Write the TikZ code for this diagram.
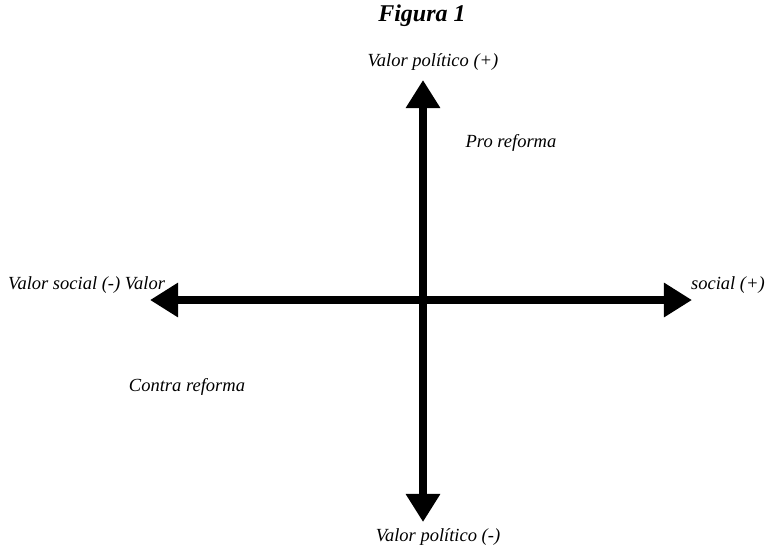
\documentclass[tikz,border=0pt]{standalone}
\usepackage{fontspec}
\setmainfont{Liberation Serif}
\usetikzlibrary{arrows.meta}

\begin{document}
\begin{tikzpicture}[x=0.03cm, y=-0.03cm, every node/.style={font=\itshape\fontsize{15.8}{18}\selectfont, inner sep=0pt},%
        axis/.style={line width=6pt, {Triangle[length=24pt,width=28pt]}-{Triangle[length=24pt,width=28pt]}}]
        \useasboundingbox (0,0) rectangle (768,547);
        \node[font=\bfseries\itshape\fontsize{20.5}{24}\selectfont] (titulo) at (422,16) {Figura 1};
        % ejes
        \coordinate (arriba) at (423,80);
        \coordinate (abajo) at (423,522);
        \coordinate (izq) at (150,300);
        \coordinate (der) at (692,300);
        \draw[axis] (abajo) -- (arriba);
        \draw[axis] (izq) -- (der);
        % etiquetas
        \node (polmas) at (433,62) {Valor político (+)};
        \node (polmenos) at (438,537) {Valor político (-)};
        \node[anchor=west] (socmenos) at (8,285) {Valor social (-) Valor};
        \node[anchor=east] (socmas) at (765,285) {social (+)};
        \node (pro) at (511,143) {Pro reforma};
        \node (contra) at (187,387) {Contra reforma};
    \end{tikzpicture}
\end{document}
